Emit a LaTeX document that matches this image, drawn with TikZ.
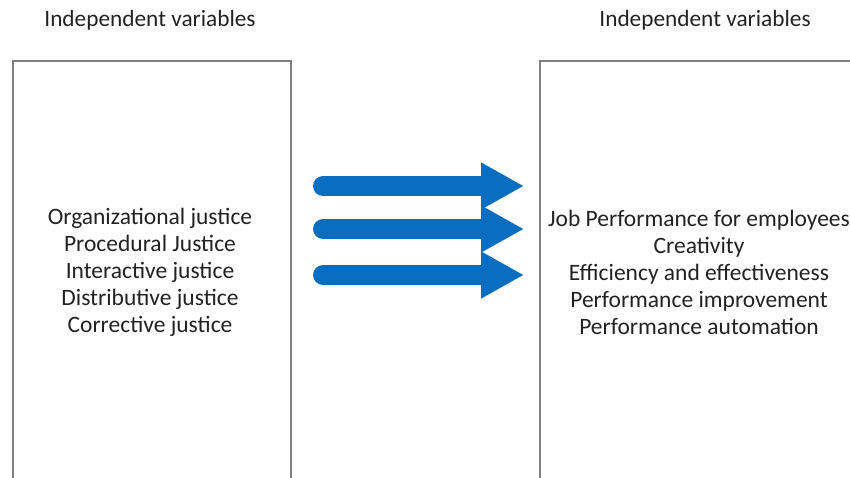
\documentclass[tikz,border=0pt]{standalone}
\usepackage{fontspec}
\setmainfont{Carlito}
\usetikzlibrary{arrows.meta}
\definecolor{arrowblue}{HTML}{0A6EC0}
\definecolor{boxgray}{HTML}{808080}
\definecolor{txt}{HTML}{222222}
\begin{document}
\begin{tikzpicture}[x=1pt,y=1pt,
  box/.style={draw=boxgray, line width=1.6pt},
  title/.style={font=\fontsize{23.3}{27}\selectfont, text=txt, anchor=center},
  item/.style={font=\fontsize{23.5}{27}\selectfont, text=txt, align=center, anchor=center},
  bigarrow/.style={arrowblue, line width=20pt, line cap=round, -{Triangle[length=43pt,width=44pt]}}]
\useasboundingbox (0,0) rectangle (850,-477);
\clip (0,0) rectangle (850,-477);
\node[box, minimum width=278pt, minimum height=440pt, anchor=north west, inner sep=0pt] (L) at (12,-60) {};
\node[box, minimum width=330pt, minimum height=440pt, anchor=north west, inner sep=0pt] (R) at (539,-60) {};
\node[title] (tl) at (150,-20) {Independent variables};
\node[title] (tr) at (705,-20) {Independent variables};
\node[item] (lt) at (150,-272) {Organizational justice\\Procedural Justice\\Interactive justice\\Distributive justice\\Corrective justice};
\node[item] (rt) at (699,-272) {Job Performance for employees\\Creativity\\Efficiency and effectiveness\\Performance improvement\\Performance automation};
\coordinate (s1) at (323,-186); \coordinate (e1) at (524,-186);
\coordinate (s2) at (323,-229); \coordinate (e2) at (524,-229);
\coordinate (s3) at (323,-275); \coordinate (e3) at (524,-275);
\draw[bigarrow] (s1) -- (e1);
\draw[bigarrow] (s2) -- (e2);
\draw[bigarrow] (s3) -- (e3);
\end{tikzpicture}
\end{document}
